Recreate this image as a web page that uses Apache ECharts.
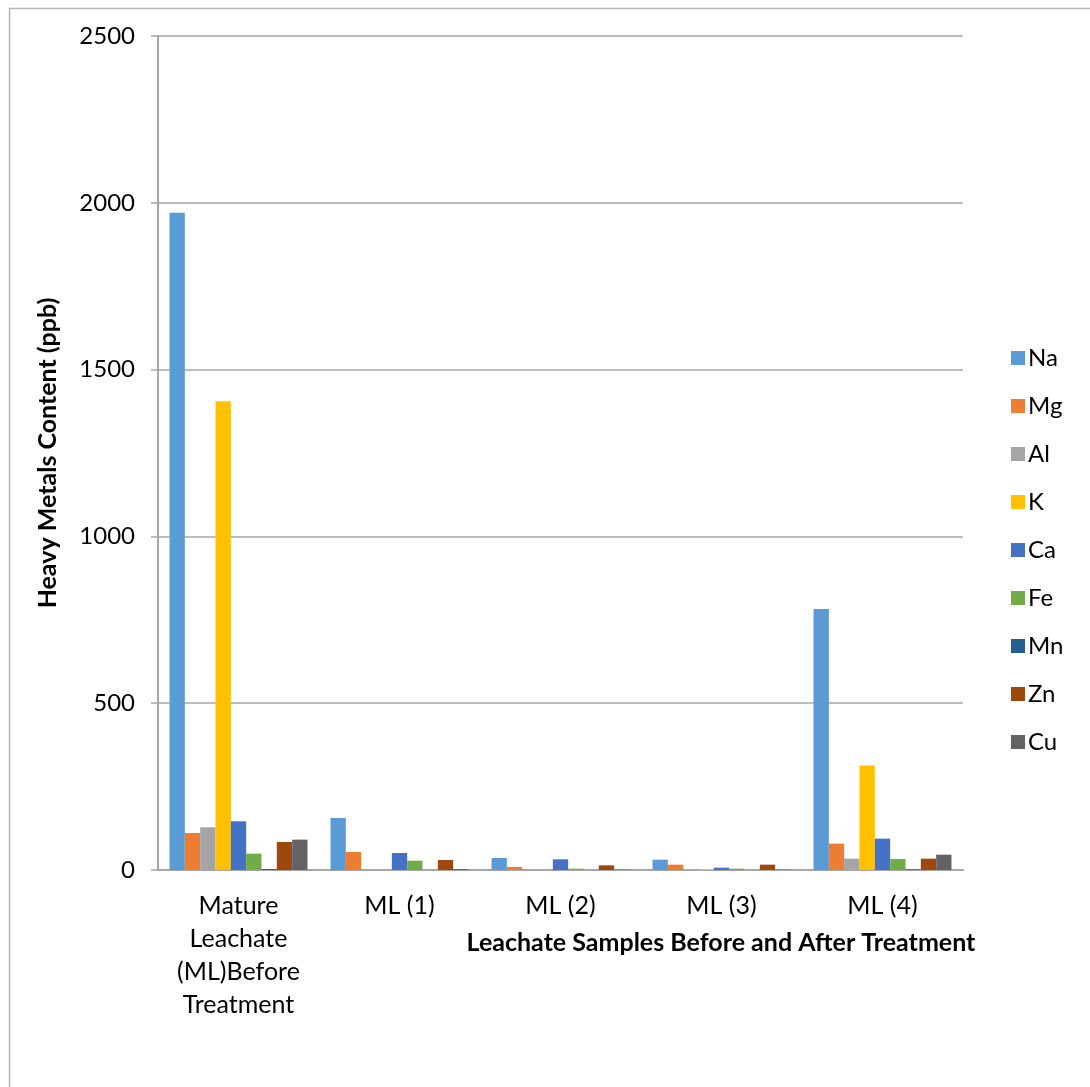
<!DOCTYPE html>
<html>
<head>
<meta charset="utf-8">
<script src="https://cdn.jsdelivr.net/npm/echarts@6/dist/echarts.min.js"></script>
<style>
  html, body { margin: 0; padding: 0; background: #ffffff; }
  #chart { width: 1090px; height: 1087px; }
</style>
</head>
<body>
<div id="chart"></div>
<script>
// Leachate samples (x categories)
const samples = ['Mature Leachate (ML)Before Treatment', 'ML (1)', 'ML (2)', 'ML (3)', 'ML (4)'];

// Metal concentrations (ppb) per sample
const Na = [1970, 156, 36, 31, 782];
const Mg = [111, 54, 9, 16, 79];
const Al = [128, 3, 3, 3, 34];
const K  = [1405, 1, 1, 3, 313];
const Ca = [146, 51, 32, 7, 94];
const Fe = [49, 28, 4, 4, 33];
const Mn = [3, 0, 0, 0, 2];
const Zn = [84, 30, 14, 16, 34];
const Cu = [91, 3, 1, 1, 46];

const yTicks = [0, 500, 1000, 1500, 2000, 2500];

const metals = [
  { name: 'Na', data: Na, color: '#5B9BD5' },
  { name: 'Mg', data: Mg, color: '#ED7D31' },
  { name: 'Al', data: Al, color: '#A5A5A5' },
  { name: 'K',  data: K,  color: '#FFC000' },
  { name: 'Ca', data: Ca, color: '#4472C4' },
  { name: 'Fe', data: Fe, color: '#70AD47' },
  { name: 'Mn', data: Mn, color: '#255E91' },
  { name: 'Zn', data: Zn, color: '#9E480E' },
  { name: 'Cu', data: Cu, color: '#636363' }
];

const FONT = 'Lato, "Open Sans", sans-serif';

const chart = echarts.init(document.getElementById('chart'));
chart.setOption({
  animation: false,
  backgroundColor: '#ffffff',
  textStyle: { fontFamily: FONT },
  grid: { left: 158, right: 127, top: 36, bottom: 217 },
  legend: {
    orient: 'vertical',
    left: 1006,
    top: 341,
    itemWidth: 14,
    itemHeight: 14,
    itemGap: 24,
    icon: 'rect',
    textStyle: { fontFamily: FONT, fontSize: 24, color: '#000000', padding: [0, 0, 0, -2] },
    data: metals.map(m => m.name)
  },
  xAxis: {
    type: 'category',
    data: samples,
    axisLine: { lineStyle: { color: '#a6a6a6', width: 2 } },
    axisTick: { show: false },
    axisLabel: {
      color: '#000000',
      fontFamily: FONT,
      fontSize: 25,
      lineHeight: 33,
      margin: 19,
      interval: 0,
      formatter: v => v.length > 12 ? v.split(' ').join('\n') : v
    }
  },
  yAxis: {
    type: 'value',
    min: 0,
    max: 2500,
    interval: 500,
    axisLine: { show: true, lineStyle: { color: '#a6a6a6', width: 2 } },
    axisTick: { show: true, length: 7, lineStyle: { color: '#a6a6a6', width: 1.5 } },
    splitLine: { lineStyle: { color: '#a6a6a6', width: 1.5 } },
    axisLabel: {
      color: '#000000',
      fontFamily: FONT,
      fontSize: 24,
      margin: 23,
      formatter: v => (yTicks.indexOf(v) >= 0 ? String(v) : '')
    }
  },
  series: metals.map(m => ({
    name: m.name,
    type: 'bar',
    data: m.data,
    barGap: '0%',
    barCategoryGap: '14.3%',
    itemStyle: { color: m.color }
  })),
  graphic: [
    {
      type: 'rect',
      left: 7, top: 6,
      shape: { width: 1100, height: 1100 },
      style: { fill: 'none', stroke: '#b5b5b5', lineWidth: 1.5 },
      silent: true, z: -1
    },
    {
      type: 'text',
      x: 721, y: 943,
      style: {
        text: 'Leachate Samples Before and After Treatment',
        font: 'bold 25px ' + FONT,
        fill: '#000000',
        textAlign: 'center',
        textVerticalAlign: 'middle'
      }
    },
    {
      type: 'text',
      x: 48, y: 453,
      rotation: Math.PI / 2,
      style: {
        text: 'Heavy Metals Content (ppb)',
        font: 'bold 25px ' + FONT,
        fill: '#000000',
        textAlign: 'center',
        textVerticalAlign: 'middle'
      }
    }
  ]
});
</script>
</body>
</html>
